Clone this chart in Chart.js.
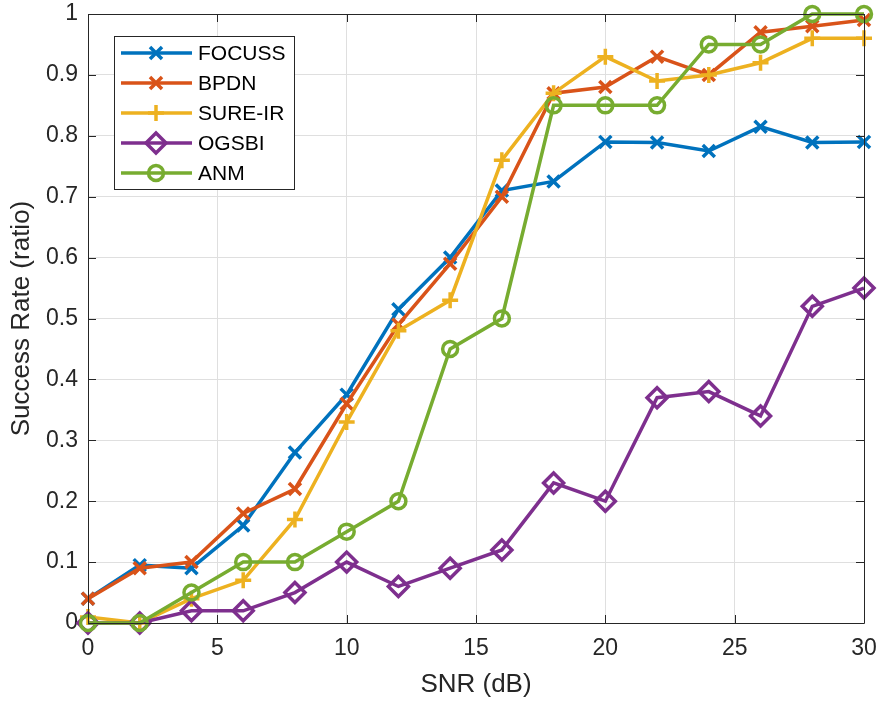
<!DOCTYPE html>
<html>
<head>
<meta charset="utf-8">
<script src="https://cdn.jsdelivr.net/npm/chart.js@4/dist/chart.umd.min.js"></script>
<style>
  html, body { margin: 0; padding: 0; background: #fff; }
  #wrap { width: 880px; height: 702px; position: relative; }
</style>
</head>
<body>
<div id="wrap"><canvas id="myChart"></canvas></div>
<script>
const snr = [0, 2, 4, 6, 8, 10, 12, 14, 16, 18, 20, 22, 24, 26, 28, 30];
const focuss = [0.04, 0.095, 0.09, 0.16, 0.28, 0.375, 0.515, 0.60, 0.71, 0.725, 0.79, 0.789, 0.775, 0.815, 0.789, 0.79];
const bpdn   = [0.04, 0.09, 0.10, 0.18, 0.22, 0.36, 0.49, 0.59, 0.70, 0.87, 0.88, 0.93, 0.90, 0.97, 0.98, 0.99];
const sureIr = [0.01, 0.0, 0.04, 0.07, 0.17, 0.33, 0.48, 0.53, 0.76, 0.87, 0.93, 0.89, 0.90, 0.92, 0.96, 0.96];
const ogsbi  = [0, 0, 0.02, 0.02, 0.05, 0.10, 0.06, 0.09, 0.12, 0.23, 0.20, 0.37, 0.38, 0.34, 0.52, 0.55];
const anm    = [0, 0, 0.05, 0.10, 0.10, 0.15, 0.20, 0.45, 0.50, 0.85, 0.85, 0.85, 0.95, 0.95, 1.0, 1.0];

const xTicks = [0, 5, 10, 15, 20, 25, 30];
const yTicks = [0, 0.1, 0.2, 0.3, 0.4, 0.5, 0.6, 0.7, 0.8, 0.9, 1];

const FONT = '"Liberation Sans", Arial, Helvetica, sans-serif';
const AXIS = '#262626';
const LW = 3.5;

function series(label, data, color, style, radius, order) {
  return {
    label: label,
    data: snr.map((x, i) => ({ x: x, y: data[i] })),
    borderColor: color,
    backgroundColor: color,
    borderWidth: LW,
    tension: 0,
    pointStyle: style,
    pointRadius: radius,
    pointBorderWidth: LW,
    pointBorderColor: color,
    pointBackgroundColor: 'rgba(0,0,0,0)',
    clip: false,
    order: order,
  };
}

// axes box, inward ticks and the legend in the top-left corner
const matlabAxes = {
  id: 'matlabAxes',
  afterDraw(chart) {
    const c = chart.ctx;
    const a = chart.chartArea;
    const xs = chart.scales.x, ys = chart.scales.y;
    c.save();
    c.strokeStyle = AXIS;
    c.lineWidth = 1;
    c.beginPath();
    c.rect(Math.round(a.left) + 0.5, Math.round(a.top) + 0.5,
           Math.round(a.right - a.left), Math.round(a.bottom - a.top));
    c.stroke();
    c.beginPath();
    xTicks.forEach(v => {
      const px = Math.round(xs.getPixelForValue(v)) + 0.5;
      c.moveTo(px, a.bottom); c.lineTo(px, a.bottom - 8);
      c.moveTo(px, a.top); c.lineTo(px, a.top + 8);
    });
    yTicks.forEach(v => {
      const py = Math.round(ys.getPixelForValue(v)) + 0.5;
      c.moveTo(a.left, py); c.lineTo(a.left + 8, py);
      c.moveTo(a.right, py); c.lineTo(a.right - 8, py);
    });
    c.stroke();

    // legend
    const lx = 114, ly = 36, lw = 180, lh = 153;
    c.fillStyle = '#fff';
    c.fillRect(lx, ly, lw, lh);
    c.strokeStyle = AXIS;
    c.lineWidth = 1;
    c.strokeRect(lx + 0.5, ly + 0.5, lw, lh);
    c.font = '21px ' + FONT;
    c.textBaseline = 'middle';
    c.textAlign = 'left';
    chart.data.datasets.forEach((ds, i) => {
      const y = ly + 17 + i * 30;
      c.strokeStyle = ds.borderColor;
      c.lineWidth = LW;
      c.beginPath();
      c.moveTo(121, y); c.lineTo(192, y);
      c.stroke();
      c.fillStyle = 'rgba(0,0,0,0)';
      Chart.helpers.drawPoint(c, { pointStyle: ds.pointStyle, radius: ds.pointRadius, rotation: 0, borderWidth: LW }, 156, y);
      c.fillStyle = '#000';
      c.fillText(ds.label, 198, y + 1);
    });
    c.restore();
  }
};

const ctx = document.getElementById('myChart').getContext('2d');
const myChart = new Chart(ctx, {
  type: 'line',
  data: {
    datasets: [
      series('FOCUSS', focuss, '#0072BD', 'crossRot', 8.5, 5),
      series('BPDN', bpdn, '#D95319', 'crossRot', 8.5, 4),
      series('SURE-IR', sureIr, '#EDB120', 'cross', 8, 3),
      series('OGSBI', ogsbi, '#7E2F8E', 'rectRot', 10, 2),
      series('ANM', anm, '#77AC30', 'circle', 7.5, 1),
    ],
  },
  options: {
    responsive: true,
    maintainAspectRatio: false,
    animation: false,
    layout: { padding: { top: 14, right: 16, left: 0, bottom: 0 } },
    plugins: {
      legend: { display: false },
      tooltip: { enabled: false },
    },
    scales: {
      x: {
        type: 'linear',
        min: 0,
        max: 30,
        afterBuildTicks: s => { s.ticks = xTicks.map(v => ({ value: v })); },
        afterFit: s => { s.height = 79; s.paddingLeft = 0; s.paddingRight = 0; },
        grid: { color: '#dfdfdf', lineWidth: 1, drawTicks: false },
        border: { display: false },
        ticks: { color: AXIS, font: { family: FONT, size: 23 }, padding: 12, maxRotation: 0 },
        title: { display: true, text: 'SNR (dB)', color: AXIS, font: { family: FONT, size: 26 }, padding: { top: 4, bottom: 2 } },
      },
      y: {
        type: 'linear',
        min: 0,
        max: 1,
        afterBuildTicks: s => { s.ticks = yTicks.map(v => ({ value: v })); },
        afterFit: s => { s.width = 88; s.paddingTop = 0; s.paddingBottom = 0; },
        grid: { color: '#dfdfdf', lineWidth: 1, drawTicks: false },
        border: { display: false },
        ticks: { color: AXIS, font: { family: FONT, size: 23 }, padding: 10, callback: v => String(Math.round(v * 10) / 10) },
        title: { display: true, text: 'Success Rate (ratio)', color: AXIS, font: { family: FONT, size: 26 }, padding: { top: 6, bottom: 0 } },
      },
    },
  },
  plugins: [matlabAxes],
});
</script>
</body>
</html>
